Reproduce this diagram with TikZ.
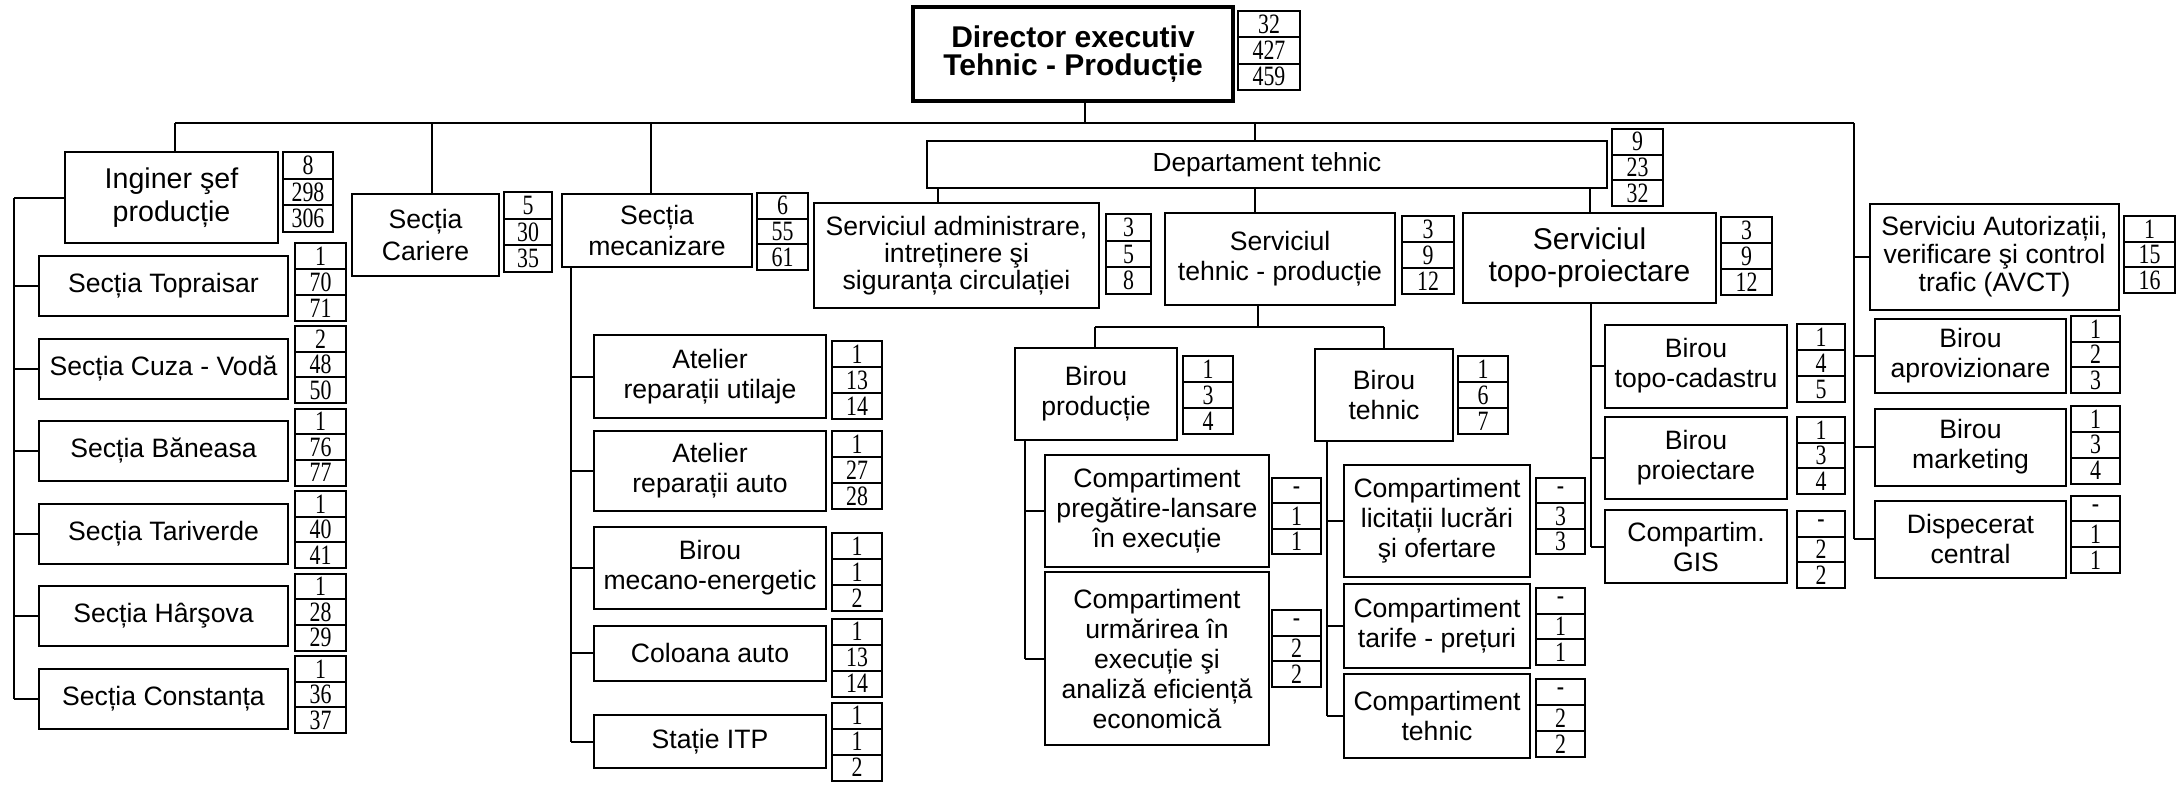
\documentclass[tikz,border=0pt]{standalone}
\usepackage{fontspec}
\setmainfont{Liberation Sans}
\newfontfamily\numfont[FakeStretch=0.78]{Liberation Serif}
\usetikzlibrary{calc}
\newcommand\fs[2]{\fontsize{#1}{#2}\selectfont}
\newcommand\bx[7][]{%
  \pgfmathsetmacro\bxw{(#5-#3)*0.5}%
  \pgfmathsetmacro\bxh{(#6-#4)*0.5}%
  \node[box,minimum width=\bxw pt,minimum height=\bxh pt,#1] (#2) at ({(#3+#5)/2},{(#4+#6)/2}) {#7};}
\newcommand\nb[8]{%
  \pgfmathsetmacro\bxw{(#4-#2)*0.5}%
  \pgfmathsetmacro\bxh{(#5-#3)*0.5}%
  \node[nbox,minimum width=\bxw pt,minimum height=\bxh pt] (#1) at ({(#2+#4)/2},{(#3+#5)/2}) {};
  \draw[ln] ($(#1.north west)!1/3!(#1.south west)$) -- ($(#1.north east)!1/3!(#1.south east)$);
  \draw[ln] ($(#1.north west)!2/3!(#1.south west)$) -- ($(#1.north east)!2/3!(#1.south east)$);
  \node[num] (#1a) at ($(#1.north)!1/6!(#1.south)$) {#6};
  \node[num] (#1b) at ($(#1.north)!1/2!(#1.south)$) {#7};
  \node[num] (#1c) at ($(#1.north)!5/6!(#1.south)$) {#8};}
\tikzset{
  ln/.style={line width=1pt},
  box/.style={draw,line width=1pt,inner sep=0pt,outer sep=0pt,align=center,font=\fs{13.3}{15}},
  nbox/.style={draw,line width=1pt,inner sep=0pt,outer sep=0pt},
  num/.style={inner sep=0pt,font=\numfont\fs{14}{14}},
}
\begin{document}
\begin{tikzpicture}[x=0.5pt,y=-0.5pt]
\fill[white] (0,0) rectangle (2182,787);
\useasboundingbox (0,0) rectangle (2182,787);

% ---------- top level ----------
\bx[line width=1.7pt,font=\bfseries\fs{15}{14.2}]{dir}{913}{7}{1233}{101}{Director executiv\\Tehnic - Producție}
\nb{dirN}{1238}{11}{1300}{90}{32}{427}{459}

\bx[font=\fs{14.3}{16.6}]{ing}{65}{152}{278}{243}{Inginer şef\\producție}
\nb{ingN}{283}{152}{333}{232}{8}{298}{306}

\bx[font=\fs{13.3}{15.8}]{car}{352}{194}{499}{276}{Secția\\Cariere}
\nb{carN}{504}{192}{552}{272}{5}{30}{35}

\bx[font=\fs{13.3}{15.8}]{mec}{562}{194}{752}{267}{Secția\\mecanizare}
\nb{mecN}{757}{193}{808}{270}{6}{55}{61}

\bx[font=\fs{13.1}{14}]{dept}{927}{141}{1607}{188}{Departament tehnic}
\nb{deptN}{1612}{129}{1663}{206}{9}{23}{32}

\bx[font=\fs{13.3}{13.4}]{adm}{814}{203}{1099}{308}{Serviciul administrare,\\intreținere şi\\siguranța circulației}
\nb{admN}{1106}{214}{1151}{294}{3}{5}{8}

\bx{stp}{1165}{213}{1395}{305}{Serviciul\\tehnic - producție}
\nb{stpN}{1402}{216}{1454}{294}{3}{9}{12}

\bx[font=\fs{15}{15.9}]{topo}{1463}{213}{1716}{303}{Serviciul\\topo-proiectare}
\nb{topoN}{1721}{217}{1772}{295}{3}{9}{12}

\bx[font=\fs{13.3}{14}]{avct}{1870}{204}{2119}{310}{Serviciu Autorizații,\\verificare şi control\\trafic (AVCT)}
\nb{avctN}{2124}{216}{2175}{293}{1}{15}{16}

% ---------- Inginer column ----------
\bx{top}{39}{256}{288}{316}{Secția Topraisar}
\nb{topN}{295}{243}{346}{321}{1}{70}{71}
\bx{cuz}{39}{338.5}{288}{398.5}{Secția Cuza - Vodă}
\nb{cuzN}{295}{326}{346}{403}{2}{48}{50}
\bx{ban}{39}{421}{288}{481}{Secția Băneasa}
\nb{banN}{295}{408.5}{346}{485.5}{1}{76}{77}
\bx{tar}{39}{503.5}{288}{563.5}{Secția Tariverde}
\nb{tarN}{295}{491}{346}{568}{1}{40}{41}
\bx{har}{39}{586}{288}{646}{Secția Hârşova}
\nb{harN}{295}{573.5}{346}{650.5}{1}{28}{29}
\bx{con}{39}{668.5}{288}{728.5}{Secția Constanța}
\nb{conN}{295}{656}{346}{733}{1}{36}{37}

% ---------- mecanizare column ----------
\bx{utl}{594}{335}{826}{418}{Atelier\\reparații utilaje}
\nb{utlN}{832}{341}{882}{419}{1}{13}{14}
\bx{aut}{594}{431}{826}{511}{Atelier\\reparații auto}
\nb{autN}{832}{431}{882}{509}{1}{27}{28}
\bx{mce}{594}{527}{826}{609}{Birou\\mecano-energetic}
\nb{mceN}{832}{533}{882}{611}{1}{1}{2}
\bx{col}{594}{625.5}{826}{680.5}{Coloana auto}
\nb{colN}{832}{618.5}{882}{696.5}{1}{13}{14}
\bx{itp}{594}{715}{826}{768}{Stație ITP}
\nb{itpN}{832}{702.5}{882}{780.5}{1}{1}{2}

% ---------- tehnic - productie ----------
\bx{bp}{1015}{348}{1177}{440}{Birou\\producție}
\nb{bpN}{1183}{356}{1233}{434}{1}{3}{4}
\bx{bt}{1315}{349}{1453}{441}{Birou\\tehnic}
\nb{btN}{1458}{356}{1508}{434}{1}{6}{7}

\bx{prg}{1045}{455}{1269}{567}{Compartiment\\pregătire-lansare\\în execuție}
\nb{prgN}{1272}{478}{1321}{554}{-}{1}{1}
\bx{urm}{1045}{572}{1269}{745}{Compartiment\\urmărirea în\\execuție şi\\analiză eficiență\\economică}
\nb{urmN}{1272}{610}{1321}{687}{-}{2}{2}

\bx{lic}{1344}{465}{1530}{577}{Compartiment\\licitații lucrări\\şi ofertare}
\nb{licN}{1536}{478}{1585}{554}{-}{3}{3}
\bx{trf}{1344}{584}{1530}{668}{Compartiment\\tarife - prețuri}
\nb{trfN}{1536}{588}{1585}{665}{-}{1}{1}
\bx{teh}{1344}{674}{1530}{758}{Compartiment\\tehnic}
\nb{tehN}{1536}{679}{1585}{757}{-}{2}{2}

% ---------- topo column ----------
\bx{tcd}{1605}{324.5}{1787}{407.5}{Birou\\topo-cadastru}
\nb{tcdN}{1797}{324}{1845}{402}{1}{4}{5}
\bx{pro}{1605}{417}{1787}{499}{Birou\\proiectare}
\nb{proN}{1797}{417}{1845}{494}{1}{3}{4}
\bx{gis}{1605}{510}{1787}{583}{Compartim.\\GIS}
\nb{gisN}{1797}{511}{1845}{588}{-}{2}{2}

% ---------- AVCT column ----------
\bx{apr}{1875}{319}{2066}{393}{Birou\\aprovizionare}
\nb{aprN}{2071}{316}{2120}{393}{1}{2}{3}
\bx{mkt}{1875}{408.5}{2066}{485.5}{Birou\\marketing}
\nb{mktN}{2071}{406}{2120}{483.5}{1}{3}{4}
\bx{dsp}{1875}{500.5}{2066}{577.5}{Dispecerat\\central}
\nb{dspN}{2071}{495.5}{2120}{573}{-}{1}{1}

% ---------- connectors ----------
\coordinate (jI) at (175,123);
\coordinate (jC) at (432,123);
\coordinate (jM) at (651,123);
\coordinate (jD) at (1085,123);
\coordinate (jT) at (1255,123);
\coordinate (jA) at (1854,123);
\draw[ln] (jI) -- (jA);
\draw[ln] (dir.south -| jD) -- (jD);
\draw[ln] (jI) -- (ing.north -| jI);
\draw[ln] (jC) -- (car.north -| jC);
\draw[ln] (jM) -- (mec.north -| jM);
\draw[ln] (jT) -- (dept.north -| jT);

\coordinate (cA) at (938,0);
\coordinate (cS) at (1255,0);
\coordinate (cP) at (1590,0);
\draw[ln] (dept.south -| cA) -- (adm.north -| cA);
\draw[ln] (dept.south -| cS) -- (stp.north -| cS);
\draw[ln] (dept.south -| cP) -- (topo.north -| cP);

\coordinate (hS) at (1258,326.5);
\coordinate (hL) at (1095,326.5);
\coordinate (hR) at (1383.6,326.5);
\draw[ln] (stp.south -| hS) -- (hS);
\draw[ln] (hL) -- (hR);
\draw[ln] (hL) -- (bp.north -| hL);
\draw[ln] (hR) -- (bt.north -| hR);

% Inginer trunk
\coordinate (tI) at (14,0);
\draw[ln] (ing.west -| tI) -- (con.west -| tI);
\foreach \n in {ing,top,cuz,ban,tar,har,con} \draw[ln] (\n.west -| tI) -- (\n.west);
% mecanizare trunk
\coordinate (tM) at (570.5,0);
\draw[ln] (mec.south -| tM) -- (itp.west -| tM);
\foreach \n in {utl,aut,mce,col,itp} \draw[ln] (\n.west -| tM) -- (\n.west);
% Birou productie trunk
\coordinate (tP) at (1025,0);
\draw[ln] (bp.south -| tP) -- (urm.west -| tP);
\foreach \n in {prg,urm} \draw[ln] (\n.west -| tP) -- (\n.west);
% Birou tehnic trunk
\coordinate (tB) at (1326.5,0);
\draw[ln] (bt.south -| tB) -- (teh.west -| tB);
\foreach \n in {lic,trf,teh} \draw[ln] (\n.west -| tB) -- (\n.west);
% topo trunk
\coordinate (tO) at (1590.7,0);
\draw[ln] (topo.south -| tO) -- (gis.west -| tO);
\foreach \n in {tcd,pro,gis} \draw[ln] (\n.west -| tO) -- (\n.west);
% AVCT trunk
\draw[ln] (jA) -- (dsp.west -| jA);
\foreach \n in {avct,apr,mkt,dsp} \draw[ln] (\n.west -| jA) -- (\n.west);
\end{tikzpicture}
\end{document}
